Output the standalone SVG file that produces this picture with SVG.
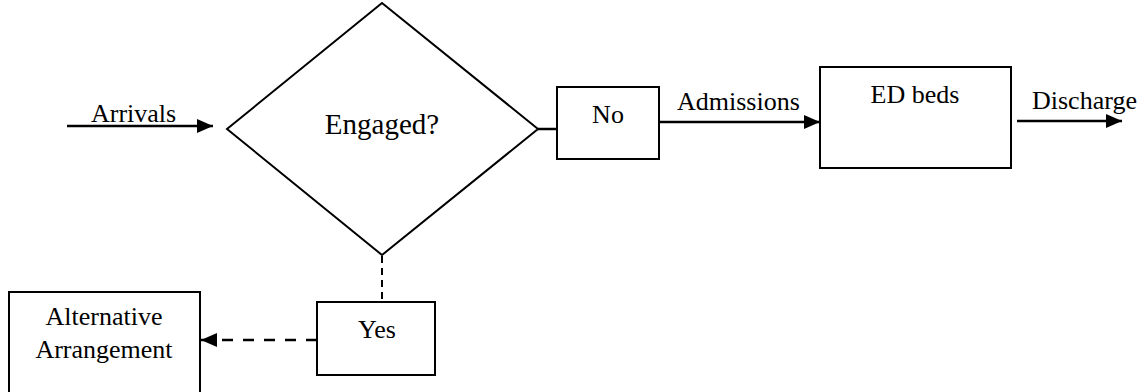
<svg xmlns="http://www.w3.org/2000/svg" width="1146" height="392" viewBox="0 0 1146 392">
<style>
  .shape { fill: #fff; stroke: #000; stroke-width: 2; }
  .line { fill: none; stroke: #000; stroke-width: 2.5; }
  .dash-v { stroke-dasharray: 7 5; stroke-width: 2; }
  .dash-h { stroke-dasharray: 11 10; }
  text { font-family: "Liberation Serif", "Times New Roman", serif; font-size: 26px; fill: #000; }
  .mid { text-anchor: middle; }
</style>
<defs>
  <marker id="arrow" viewBox="0 0 16 14" refX="16" refY="7" markerWidth="16" markerHeight="14" markerUnits="userSpaceOnUse" orient="auto">
    <path d="M0,0 L16,7 L0,14 Z" fill="#000"/>
  </marker>
</defs>
<rect width="1146" height="392" fill="#fff"/>
<g id="connectors">
  <line class="line" x1="67" y1="126" x2="213" y2="126" marker-end="url(#arrow)"/>
  <text x="91" y="122">Arrivals</text>
  <line class="line" x1="538" y1="129" x2="557" y2="129"/>
  <line class="line" x1="659" y1="122" x2="820" y2="122" marker-end="url(#arrow)"/>
  <text x="677" y="110">Admissions</text>
  <line class="line" x1="1017" y1="121" x2="1122" y2="121" marker-end="url(#arrow)"/>
  <text x="1032" y="109">Discharge</text>
  <line class="line dash-v" x1="382" y1="256" x2="382" y2="302"/>
  <line class="line dash-h" x1="317" y1="340" x2="201" y2="340" marker-end="url(#arrow)"/>
</g>
<g id="engaged">
  <polygon class="shape" points="382,3 538,129 382,255 227,129"/>
  <text class="mid" x="382" y="134" style="font-size:29px">Engaged?</text>
</g>
<g id="no">
  <rect class="shape" x="557" y="87" width="102" height="72"/>
  <text class="mid" x="608" y="123">No</text>
</g>
<g id="ed-beds">
  <rect class="shape" x="820" y="67" width="191" height="101"/>
  <text class="mid" x="915" y="103">ED beds</text>
</g>
<g id="yes">
  <rect class="shape" x="317" y="302" width="118" height="73"/>
  <text class="mid" x="377" y="338">Yes</text>
</g>
<g id="alternative">
  <rect class="shape" x="9" y="292" width="191" height="110"/>
  <text class="mid" x="104" y="325">Alternative</text>
  <text class="mid" x="104" y="358">Arrangement</text>
</g>
</svg>
